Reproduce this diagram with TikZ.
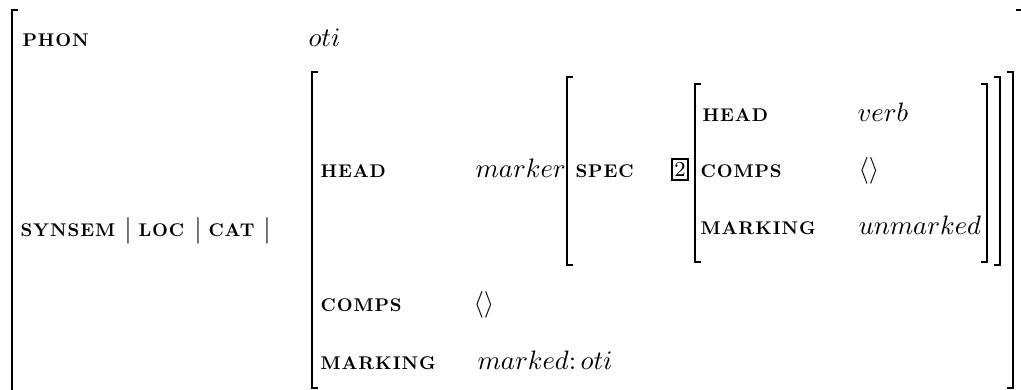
\documentclass[tikz,border=0pt]{standalone}
\usepackage{fontspec}
\usepackage{tikz}
\usetikzlibrary{positioning}
\newfontfamily\attrfont{lmroman10-bold.otf}[LetterSpace=5]

\begin{document}
\begin{tikzpicture}[x=0.375pt, y=-0.375pt,
    attr/.style={anchor=base west, inner sep=0pt, font=\attrfont\fontsize{6.9}{8}\selectfont},
    val/.style={anchor=base west, inner sep=0pt},
    bracket/.style={line width=0.5pt},
    tag/.style={draw, line width=1pt, inner sep=0pt, minimum width=6pt, minimum height=7.9pt, font=\footnotesize}]
        \useasboundingbox (0,0) rectangle (1021,390);
        % outer matrix
        \draw[bracket] (18,10) -- (12,10) -- (12,400);
        \draw[bracket] (1016,10) -- (1022,10) -- (1022,400);
        % feature names
        \foreach \name/\x/\y/\txt in {phon/22/47/PHON, synsem/20/237/SYNSEM, loc/138/237/LOC, cat/208/237/CAT,
            head/320/178/HEAD, comps/320/312/COMPS, marking/320/370/MARKING, spec/575/178/SPEC,
            shead/702/122/HEAD, scomps/700/178/COMPS, smarking/700/235/MARKING}
        \node[attr] (\name) at (\x,\y) {\txt};
        % path bars
        \foreach \name/\x in {bara/128, barb/198, barc/267}
        \node[inner sep=0pt] (\name) at (\x,230.5) {$|$};
        % values
        \node[val] (phonval) at (308,47) {$oti$};
        \node[val] (headval) at (475,178) {$marker$};
        \node[val] (compsval) at (473,312) {$\langle\rangle$};
        \node[val] (markingval) at (477,370) {$marked\colon oti$};
        \node[val] (sheadval) at (857,122) {$verb$};
        \node[val] (scompsval) at (858,178) {$\langle\rangle$};
        \node[val] (smarkingval) at (858,235) {$unmarked$};
        % tag
        \node[tag] (tagtwo) at (680,169.5) {2};
        % brackets of the inner matrices
        \foreach \xl/\xr/\top/\bot in {312/1013/72/388, 567/1000/77/265, 695/987/84/262}
        \draw[bracket] (\xl+6,\top) -- (\xl,\top) -- (\xl,\bot) -- (\xl+6,\bot)
            (\xr-6,\top) -- (\xr,\top) -- (\xr,\bot) -- (\xr-6,\bot);
    \end{tikzpicture}
\end{document}
